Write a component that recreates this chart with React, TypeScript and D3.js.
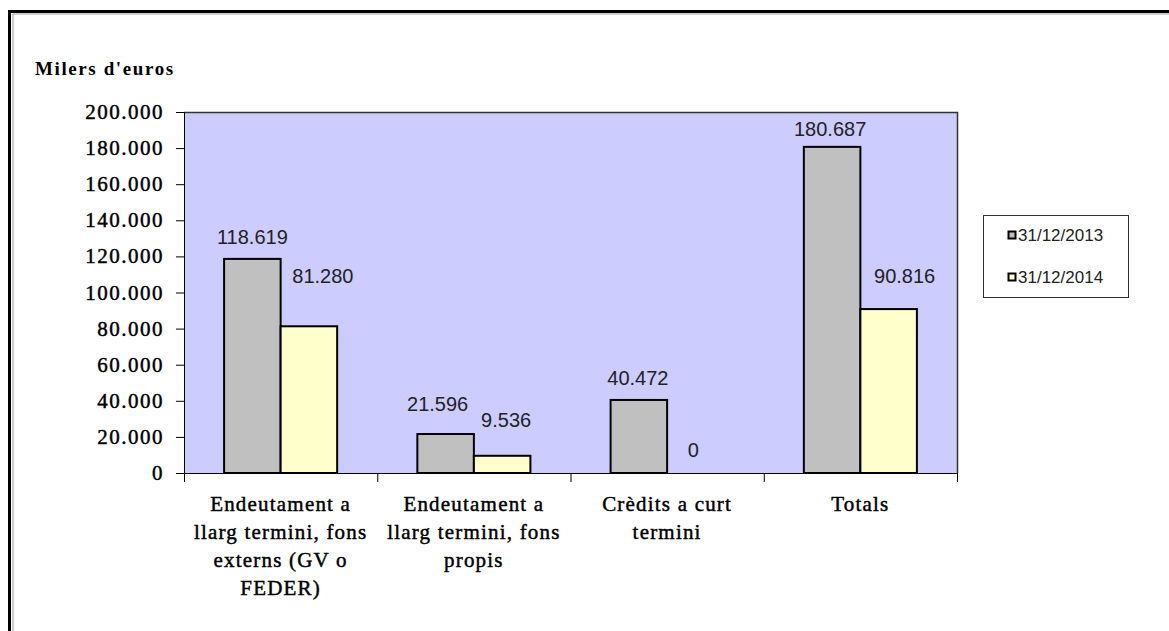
import React from 'react';
import * as d3 from 'd3';

const categories = [
  ['Endeutament a', 'llarg termini, fons', 'externs (GV o', 'FEDER)'],
  ['Endeutament a', 'llarg termini, fons', 'propis'],
  ['Crèdits a curt', 'termini'],
  ['Totals'],
];
const seriesNames = ['31/12/2013', '31/12/2014'];
const values2013 = [118619, 21596, 40472, 180687];
const values2014 = [81280, 9536, 0, 90816];
const yTicks = [0, 20000, 40000, 60000, 80000, 100000, 120000, 140000, 160000, 180000, 200000];

// hand nudges for the value labels (Excel placed them loosely)
const labelDx = [
  [0, -8, -1, -2],
  [14, 4, -2, 16],
];
const labelLift = [
  [22, 30, 22, 18],
  [50, 36, 23, 33],
];

const colors = ['#c0c0c0', '#ffffcc'];
const fmt = (v: number) => d3.format(',')(v).replace(/,/g, '.');

export default function App() {
  const width = 1169;
  const height = 631;
  const plot = { left: 184, right: 957, top: 112, bottom: 473 };

  const keys = categories.map((_, i) => String(i));
  const x = d3
    .scaleBand()
    .domain(keys)
    .range([plot.left, plot.right])
    .paddingInner(0.415)
    .paddingOuter(0.2075);
  const xs = d3.scaleBand().domain(['0', '1']).range([0, x.bandwidth()]);
  const y = d3.scaleLinear().domain([0, 200000]).range([plot.bottom, plot.top]);

  const series = [values2013, values2014];
  const step = x.step();
  const bounds = d3.range(categories.length + 1).map((i) => plot.left + i * step);

  const serif = "'Liberation Serif', 'Times New Roman', serif";
  const sans = "'Liberation Sans', Arial, sans-serif";

  return (
    <svg
      width={width}
      height={height}
      style={{ position: 'absolute', left: 0, top: 0, display: 'block', background: '#fff' }}
    >
      {/* frame */}
      <line x1={9.5} y1={10} x2={9.5} y2={height} stroke="#000" strokeWidth={3} />
      <line x1={8} y1={11.5} x2={width} y2={11.5} stroke="#000" strokeWidth={3} />
      <line x1={13} y1={14} x2={13} y2={height} stroke="#999" strokeWidth={1} />
      <line x1={12.5} y1={14} x2={width} y2={14} stroke="#999" strokeWidth={1} />

      <text
        x={35}
        y={75}
        fontFamily={serif}
        fontWeight="bold"
        fontSize={19}
        letterSpacing={1.6}
        fill="#000"
      >
        Milers d'euros
      </text>

      {/* plot area */}
      <rect
        x={plot.left}
        y={plot.top}
        width={plot.right - plot.left}
        height={plot.bottom - plot.top}
        fill="#ccccff"
      />
      <path
        d={`M${plot.left},${plot.top + 0.5}H${plot.right + 0.5}V${plot.bottom}`}
        fill="none"
        stroke="#333"
        strokeWidth={1.5}
      />

      {/* y axis */}
      <line x1={plot.left + 0.5} y1={plot.top} x2={plot.left + 0.5} y2={plot.bottom} stroke="#000" />
      {yTicks.map((t) => (
        <g key={t}>
          <line x1={176} x2={plot.left} y1={y(t) + 0.5} y2={y(t) + 0.5} stroke="#000" />
          <text
            x={164}
            y={y(t) + 7}
            textAnchor="end"
            fontFamily={serif}
            fontSize={21}
            letterSpacing={1.5}
            fill="#000"
            stroke="#000"
            strokeWidth={0.45}
          >
            {fmt(t)}
          </text>
        </g>
      ))}

      {/* bars */}
      {series.map((vals, s) =>
        vals.map((v, i) => {
          const bx = (x(String(i)) as number) + (xs(String(s)) as number);
          const bw = xs.bandwidth();
          return (
            <g key={`${s}-${i}`}>
              {v > 0 && (
                <rect
                  x={bx}
                  y={y(v)}
                  width={bw}
                  height={y(0) - y(v)}
                  fill={colors[s]}
                  stroke="#000"
                  strokeWidth={2}
                />
              )}
              <text
                x={bx + bw / 2 + labelDx[s][i]}
                y={y(v) - labelLift[s][i] + 7}
                textAnchor="middle"
                fontFamily={sans}
                fontSize={20}
                fill="#222"
              >
                {fmt(v)}
              </text>
            </g>
          );
        })
      )}

      {/* x axis */}
      <line x1={plot.left} x2={plot.right + 1} y1={plot.bottom + 0.5} y2={plot.bottom + 0.5} stroke="#000" />
      {bounds.map((b, i) => (
        <line key={i} x1={b + 0.5} x2={b + 0.5} y1={plot.bottom} y2={plot.bottom + 9} stroke="#000" />
      ))}
      {categories.map((lines, i) => (
        <text
          key={i}
          x={(x(String(i)) as number) + x.bandwidth() / 2}
          y={511}
          textAnchor="middle"
          fontFamily={serif}
          fontSize={21}
          letterSpacing={1.2}
          fill="#000"
          stroke="#000"
          strokeWidth={0.45}
        >
          {lines.map((l, j) => (
            <tspan key={j} x={(x(String(i)) as number) + x.bandwidth() / 2} dy={j === 0 ? 0 : 28}>
              {l}
            </tspan>
          ))}
        </text>
      ))}

      {/* legend */}
      <rect x={983.5} y={215.5} width={145} height={82} fill="#fff" stroke="#333" />
      {seriesNames.map((n, i) => (
        <g key={n}>
          <rect
            x={1008.5}
            y={231.5 + i * 42}
            width={7}
            height={7}
            fill={colors[i]}
            stroke="#000"
            strokeWidth={2}
          />
          <text x={1018} y={241 + i * 42} fontFamily={sans} fontSize={17} fill="#222">
            {n}
          </text>
        </g>
      ))}
    </svg>
  );
}
